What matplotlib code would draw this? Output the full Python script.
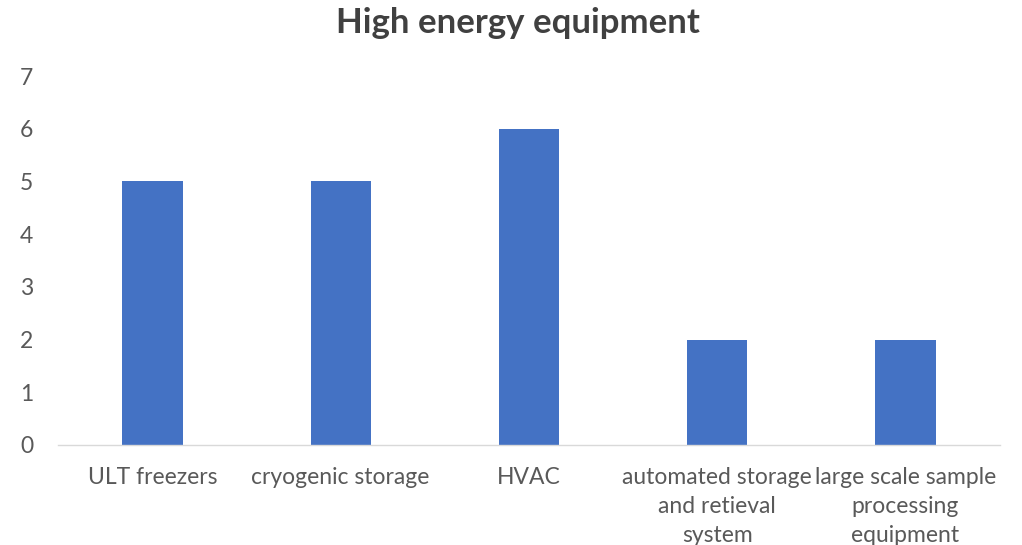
import matplotlib
matplotlib.use("Agg")
from matplotlib import pyplot as plt
import numpy as np

categories = [
    "ULT freezers",
    "cryogenic storage",
    "HVAC",
    "automated storage\nand retieval\nsystem",
    "large scale sample\nprocessing\nequipment",
]
counts = [5, 5, 6, 2, 2]
y_ticks = [0, 1, 2, 3, 4, 5, 6, 7]

plt.rcParams['font.family'] = ['Lato', 'DejaVu Sans']

fig = plt.figure(figsize=(10.22, 5.45), dpi=100)
ax = fig.add_axes([0.057, 0.1835, 0.921, 0.677])

x = np.arange(len(categories))
ax.bar(x, counts, width=0.32, color="#4472C4", zorder=2)

ax.set_xlim(-0.5, len(categories) - 0.5)
ax.set_ylim(0, 7)
ax.set_yticks(y_ticks)
ax.set_xticks(x)
ax.set_xticklabels(categories, fontsize=16.5, color="#595959", linespacing=1.45)
ax.tick_params(axis="y", labelsize=16.5, labelcolor="#595959", length=0, pad=18)
ax.tick_params(axis="x", length=0, pad=16)

for side in ("top", "right", "left"):
    ax.spines[side].set_visible(False)
ax.spines["bottom"].set_color("#D9D9D9")
ax.spines["bottom"].set_linewidth(1)

fig.text(0.507, 0.957, "High energy equipment", ha="center", va="center",
         fontsize=25, fontweight="bold", color="#404040")

fig.savefig("out.png", dpi=100)
